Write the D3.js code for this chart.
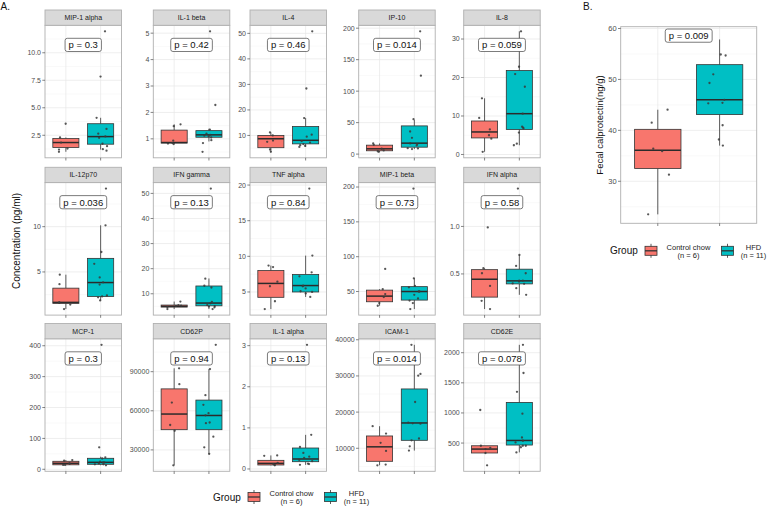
<!DOCTYPE html>
<html>
<head>
<meta charset="utf-8">
<script src="https://cdn.jsdelivr.net/npm/d3@7"></script>
<style>
  body { margin: 0; background: #fff; }
  svg { display: block; font-family: "Liberation Sans", Arial, sans-serif; }
</style>
</head>
<body>
<svg id="chart"></svg>
<script>
// ---- data ----
const groups = ["Control chow", "HFD"];
const groupN = ["(n = 6)", "(n = 11)"];

const panelNames = ["MIP-1 alpha", "IL-1 beta", "IL-4", "IP-10", "IL-8",
  "IL-12p70", "IFN gamma", "TNF alpha", "MIP-1 beta", "IFN alpha",
  "MCP-1", "CD62P", "IL-1 alpha", "ICAM-1", "CD62E"];

const pLabels = ["p = 0.3", "p = 0.42", "p = 0.46", "p = 0.014", "p = 0.059",
  "p = 0.036", "p = 0.13", "p = 0.84", "p = 0.73", "p = 0.58",
  "p = 0.3", "p = 0.94", "p = 0.13", "p = 0.014", "p = 0.078"];

const yTickLabels = [
  ["2.5", "5.0", "7.5", "10.0"], ["1", "2", "3", "4", "5"], ["10", "20", "30", "40", "50"],
  ["0", "50", "100", "150", "200"], ["0", "10", "20", "30"],
  ["5", "10"], ["10", "20", "30", "40", "50"], ["5", "10", "15", "20"],
  ["50", "100", "150", "200"], ["0.5", "1.0"],
  ["0", "100", "200", "300", "400"], ["30000", "60000", "90000"], ["0", "1", "2", "3"],
  ["10000", "20000", "30000", "40000"], ["500", "1000", "1500", "2000"]
];

// [lower whisker, q1, median, q3, upper whisker]
const ctrlBoxes = [
  [1.0, 1.39, 1.84, 2.2, 2.3], [0.8, 0.84, 0.86, 1.33, 1.55], [3.6, 5.2, 8.7, 10.0, 11.2],
  [3.7, 5.3, 8.4, 14.2, 17], [0.7, 4.3, 5.85, 8.7, 14.6],
  [0.9, 1.53, 1.64, 3.21, 4.7], [3.9, 4.7, 5.0, 5.5, 6.9], [2.6, 4.25, 6.2, 8.0, 8.7],
  [29.6, 35.3, 43.4, 52, 53.4], [0.13, 0.256, 0.444, 0.545, 0.56],
  [13.5, 14.5, 19.4, 25.9, 30], [18200, 45500, 57500, 76800, 92600], [0.09, 0.097, 0.136, 0.21, 0.33],
  [5300, 6400, 10400, 13400, 16100], [335, 335, 400, 455, 455]
];
const hfdBoxes = [
  [1.2, 1.69, 2.38, 3.55, 4.09], [0.9, 1.06, 1.15, 1.31, 1.38], [5.5, 6.7, 8.1, 13.5, 16.8],
  [8, 11, 17.4, 44.8, 54.3], [2.4, 6.5, 10.6, 21.8, 32],
  [1.85, 2.3, 3.83, 6.5, 10.15], [3.9, 5.2, 6.3, 13.1, 16.1], [4.3, 5.0, 5.9, 7.45, 10.1],
  [24.8, 37.7, 50, 57, 69], [0.28, 0.395, 0.427, 0.55, 0.70],
  [13, 16.2, 22.6, 35.6, 40.8], [26400, 45500, 56400, 68200, 92000], [0.1, 0.177, 0.243, 0.51, 0.83],
  [9360, 12200, 17000, 26400, 38600], [345, 467, 543, 1175, 2131]
];

const ctrlPoints = [
  [3.55, 2.3, 1.84, 1.3, 1.2, 1.0], [1.48, 1.55, 0.93, 0.82, 0.84, 0.80], [11.2, 10, 8, 7.5, 4.5, 3.6],
  [17, 14.8, 8.5, 5.8, 4.5, 3.7], [14.6, 9.5, 6.5, 5.0, 4.1, 0.7],
  [4.7, 3.65, 1.64, 1.6, 1.4, 0.9], [6.9, 5.5, 5.2, 5.3, 3.9, 4.7], [8.5, 8.7, 6.45, 5.8, 3.7, 2.6],
  [82.4, 53.4, 46.3, 42, 33.4, 29.6], [0.99, 0.56, 0.507, 0.374, 0.217, 0.13],
  [30, 28, 18, 14, 14, 19], [92600, 80400, 66300, 49100, 44700, 18200], [0.32, 0.33, 0.12, 0.1, 0.09, 0.15],
  [16100, 14060, 11500, 9280, 5300, 5500], [1049, 455, 420, 400, 335, 131]
];
const hfdPoints = [
  [4.09, 7.84, 11.95, 3.08, 2.65, 2.27, 1.73, 1.51, 1.24, 1.1, 2.4],
  [5.07, 2.28, 1.35, 1.2, 1.15, 1.1, 1.05, 1.12, 0.84, 0.51, 0.95],
  [50.8, 28.4, 16.8, 10.3, 9.5, 7.8, 7.2, 6.6, 6.2, 5.9, 5.5],
  [195, 124.5, 55.4, 35.9, 25.8, 17, 16, 14, 9.5, 9, 8],
  [32, 22.8, 20.9, 17.6, 10.6, 7.2, 7.0, 5.7, 2.8, 2.4, 6.8],
  [14.2, 10.15, 7.2, 5.9, 4.4, 3.85, 3.6, 2.3, 2.4, 2.2, 1.85],
  [51.9, 16, 13.2, 12.5, 6.8, 6.2, 5.1, 4.9, 3.9, 5.5, 4.6],
  [19.5, 10.1, 7.75, 7.2, 5.9, 5.8, 5.5, 5.0, 4.8, 5.1, 4.3],
  [197.7, 69, 58, 56, 50, 50, 45.3, 40, 37, 33.4, 24.8],
  [1.398, 0.70, 0.584, 0.507, 0.43, 0.43, 0.396, 0.40, 0.35, 0.28, 0.42],
  [403, 71, 38.8, 35, 25, 22, 22, 19, 16, 16, 13],
  [110600, 92000, 72000, 64600, 58200, 56500, 51000, 50500, 40150, 32000, 27000],
  [3.02, 0.83, 0.534, 0.39, 0.27, 0.30, 0.22, 0.13, 0.12, 0.1, 0.19],
  [38600, 30550, 30080, 22800, 17100, 16900, 16800, 12700, 12200, 10550, 9360],
  [2131, 1663, 1350, 988, 592, 538, 510, 455, 430, 345, 455]
];

// panel B: fecal calprotectin
const calTickLabels = ["30", "40", "50", "60"];
const calCtrlBox = [23.5, 32.5, 36.1, 40.2, 44.05];
const calHfdBox = [37.0, 43.1, 46.0, 52.9, 57.85];
const calCtrlPoints = [41.5, 44.05, 36.4, 35.9, 31.3, 23.5];
const calHfdPoints = [54.9, 54.7, 51.0, 49.3, 46.0, 45.4, 45.3, 41.0, 38.2, 37.0];
const calPLabel = "p = 0.009";
const calLabelY = 58.6;

// ---- drawing ----
const width = 767, height = 507;
const colors = ["#F8766D", "#00BFC4"];
const svg = d3.select("#chart").attr("width", width).attr("height", height);

const colLeft = [45, 153.3, 250, 358.7, 463.7];
const rowTop = [25.3, 182.6, 338.8];
const panelW = 76.5, panelH = 132.5, stripH = 15.3;

const jitter = d3.randomUniform.source(d3.randomLcg(0.37))(-0.2, 0.2);

function boxPanel(g, o) {
  const all = o.points.flat().concat(o.extraY != null ? [o.extraY] : []);
  const [lo, hi] = d3.extent(all);
  const pad = (hi - lo) * 0.05;
  const y = d3.scaleLinear().domain([lo - pad, hi + pad]).range([o.top + o.h, o.top]);
  const x = d3.scaleLinear().domain([0.4, 2.6]).range([o.left, o.left + o.w]);
  const ticks = o.ticks.map(Number);
  const step = ticks[1] - ticks[0];
  const minors = d3.range(ticks[0] - step / 2, hi + pad, step).filter(v => v > lo - pad && v < hi + pad);

  const grid = g.append("g");
  grid.selectAll(".mn").data(minors).join("line")
    .attr("x1", o.left).attr("x2", o.left + o.w)
    .attr("y1", d => y(d)).attr("y2", d => y(d))
    .attr("stroke", "#f3f3f3").attr("stroke-width", 0.5);
  grid.selectAll(".mj").data(ticks).join("line")
    .attr("x1", o.left).attr("x2", o.left + o.w)
    .attr("y1", d => y(d)).attr("y2", d => y(d))
    .attr("stroke", "#e6e6e6").attr("stroke-width", 0.7);
  grid.selectAll(".vx").data([1, 2]).join("line")
    .attr("x1", d => x(d)).attr("x2", d => x(d))
    .attr("y1", o.top).attr("y2", o.top + o.h)
    .attr("stroke", "#e6e6e6").attr("stroke-width", 0.7);

  // boxes
  o.boxes.forEach((b, i) => {
    const c = i + 1;
    const bg = g.append("g").attr("stroke", "#333").attr("fill", "none");
    bg.append("line").attr("x1", x(c)).attr("x2", x(c)).attr("y1", y(b[0])).attr("y2", y(b[1])).attr("stroke-width", 0.8);
    bg.append("line").attr("x1", x(c)).attr("x2", x(c)).attr("y1", y(b[3])).attr("y2", y(b[4])).attr("stroke-width", 0.8);
    bg.append("rect")
      .attr("x", x(c - 0.375)).attr("width", x(c + 0.375) - x(c - 0.375))
      .attr("y", y(b[3])).attr("height", Math.max(0.8, y(b[1]) - y(b[3])))
      .attr("fill", colors[i]).attr("stroke-width", 0.8);
    bg.append("line").attr("x1", x(c - 0.375)).attr("x2", x(c + 0.375))
      .attr("y1", y(b[2])).attr("y2", y(b[2])).attr("stroke-width", 1.5).attr("stroke", "#2b2b2b");
  });

  // jittered points
  o.points.forEach((pts, i) => {
    g.append("g").selectAll("circle").data(pts).join("circle")
      .attr("cx", () => x(i + 1 + jitter()))
      .attr("cy", d => y(d))
      .attr("r", 1.15)
      .attr("fill", "#3a3a3a").attr("opacity", 0.85);
  });

  // p-value label
  const ly = o.extraY != null ? y(o.extraY) : o.top + o.h * 0.148;
  const lg = g.append("g");
  const lt = lg.append("text").attr("x", x(1.5)).attr("y", ly).attr("dy", "0.35em")
    .attr("text-anchor", "middle").attr("font-size", 9.5).attr("fill", "#111").text(o.label);
  const bb = lt.node().getBBox();
  lg.insert("rect", "text")
    .attr("x", bb.x - 3.5).attr("y", ly - 6.6).attr("width", bb.width + 7).attr("height", 13.2)
    .attr("rx", 2.2).attr("fill", "#fff").attr("stroke", "#444").attr("stroke-width", 0.7);

  // panel border
  g.append("rect").attr("x", o.left).attr("y", o.top).attr("width", o.w).attr("height", o.h)
    .attr("fill", "none").attr("stroke", "#b0b0b0").attr("stroke-width", 0.9);

  // y axis
  const ya = g.append("g");
  ya.selectAll("line").data(ticks).join("line")
    .attr("x1", o.left - 2.7).attr("x2", o.left)
    .attr("y1", d => y(d)).attr("y2", d => y(d))
    .attr("stroke", "#333").attr("stroke-width", 0.6);
  ya.selectAll("text").data(o.ticks).join("text")
    .attr("x", o.left - 4).attr("y", d => y(+d)).attr("dy", "0.35em")
    .attr("text-anchor", "end").attr("font-size", o.tickSize).attr("fill", "#4d4d4d").text(d => d);
  // x ticks (no labels)
  g.append("g").selectAll("line").data([1, 2]).join("line")
    .attr("x1", d => x(d)).attr("x2", d => x(d))
    .attr("y1", o.top + o.h).attr("y2", o.top + o.h + 2.7)
    .attr("stroke", "#333").attr("stroke-width", 0.6);
}

function legend(g, gx, gy) {
  g.append("text").attr("x", gx).attr("y", gy).attr("font-size", 10).attr("fill", "#111").text("Group");
  const keyX = [gx + 35, gx + 111.5];
  const textX = [gx + 78.5, gx + 143.5];
  groups.forEach((name, i) => {
    const kx = keyX[i], cy = gy - 3.5;
    const k = g.append("g").attr("stroke", "#333");
    k.append("line").attr("x1", kx + 6).attr("x2", kx + 6).attr("y1", cy - 7).attr("y2", cy + 7).attr("stroke-width", 0.8);
    k.append("rect").attr("x", kx).attr("y", cy - 4.5).attr("width", 12).attr("height", 9)
      .attr("fill", colors[i]).attr("stroke-width", 0.8);
    k.append("line").attr("x1", kx).attr("x2", kx + 12).attr("y1", cy).attr("y2", cy).attr("stroke-width", 1.3);
    g.append("text").attr("x", textX[i]).attr("y", gy - 4.5).attr("text-anchor", "middle")
      .attr("font-size", 7.5).attr("fill", "#222").text(name);
    g.append("text").attr("x", textX[i]).attr("y", gy + 3.6).attr("text-anchor", "middle")
      .attr("font-size", 7.5).attr("fill", "#222").text(groupN[i]);
  });
}

// ---- panel A ----
const gA = svg.append("g");
gA.append("text").attr("x", 0.5).attr("y", 9.5).attr("font-size", 10).attr("fill", "#111").text("A.");

panelNames.forEach((name, i) => {
  const left = colLeft[i % 5], top = rowTop[Math.floor(i / 5)];
  const g = gA.append("g");
  boxPanel(g, {
    left, top, w: panelW, h: panelH,
    ticks: yTickLabels[i],
    boxes: [ctrlBoxes[i], hfdBoxes[i]],
    points: [ctrlPoints[i], hfdPoints[i]],
    label: pLabels[i], tickSize: 7
  });
  // strip
  g.append("rect").attr("x", left).attr("y", top - stripH).attr("width", panelW).attr("height", stripH)
    .attr("fill", "#d9d9d9").attr("stroke", "#b0b0b0").attr("stroke-width", 0.9);
  g.append("text").attr("x", left + panelW / 2).attr("y", top - stripH / 2).attr("dy", "0.35em")
    .attr("text-anchor", "middle").attr("font-size", 7).attr("fill", "#1a1a1a").text(name);
});

gA.append("text")
  .attr("transform", "translate(19.5,241) rotate(-90)")
  .attr("text-anchor", "middle").attr("font-size", 10).attr("fill", "#111")
  .text("Concentration (pg/ml)");

legend(gA, 213, 500.5);

// ---- panel B ----
const gB = svg.append("g");
gB.append("text").attr("x", 583).attr("y", 9.5).attr("font-size", 10).attr("fill", "#111").text("B.");
boxPanel(gB, {
  left: 620.7, top: 26.7, w: 136, h: 196.6,
  ticks: calTickLabels,
  boxes: [calCtrlBox, calHfdBox],
  points: [calCtrlPoints, calHfdPoints],
  label: calPLabel, extraY: calLabelY, tickSize: 7.5
});
gB.append("text")
  .attr("transform", "translate(603,125) rotate(-90)")
  .attr("text-anchor", "middle").attr("font-size", 9.5).attr("fill", "#111")
  .text("Fecal calprotectin(ng/g)");

legend(gB, 610, 254.3);
</script>
</body>
</html>
